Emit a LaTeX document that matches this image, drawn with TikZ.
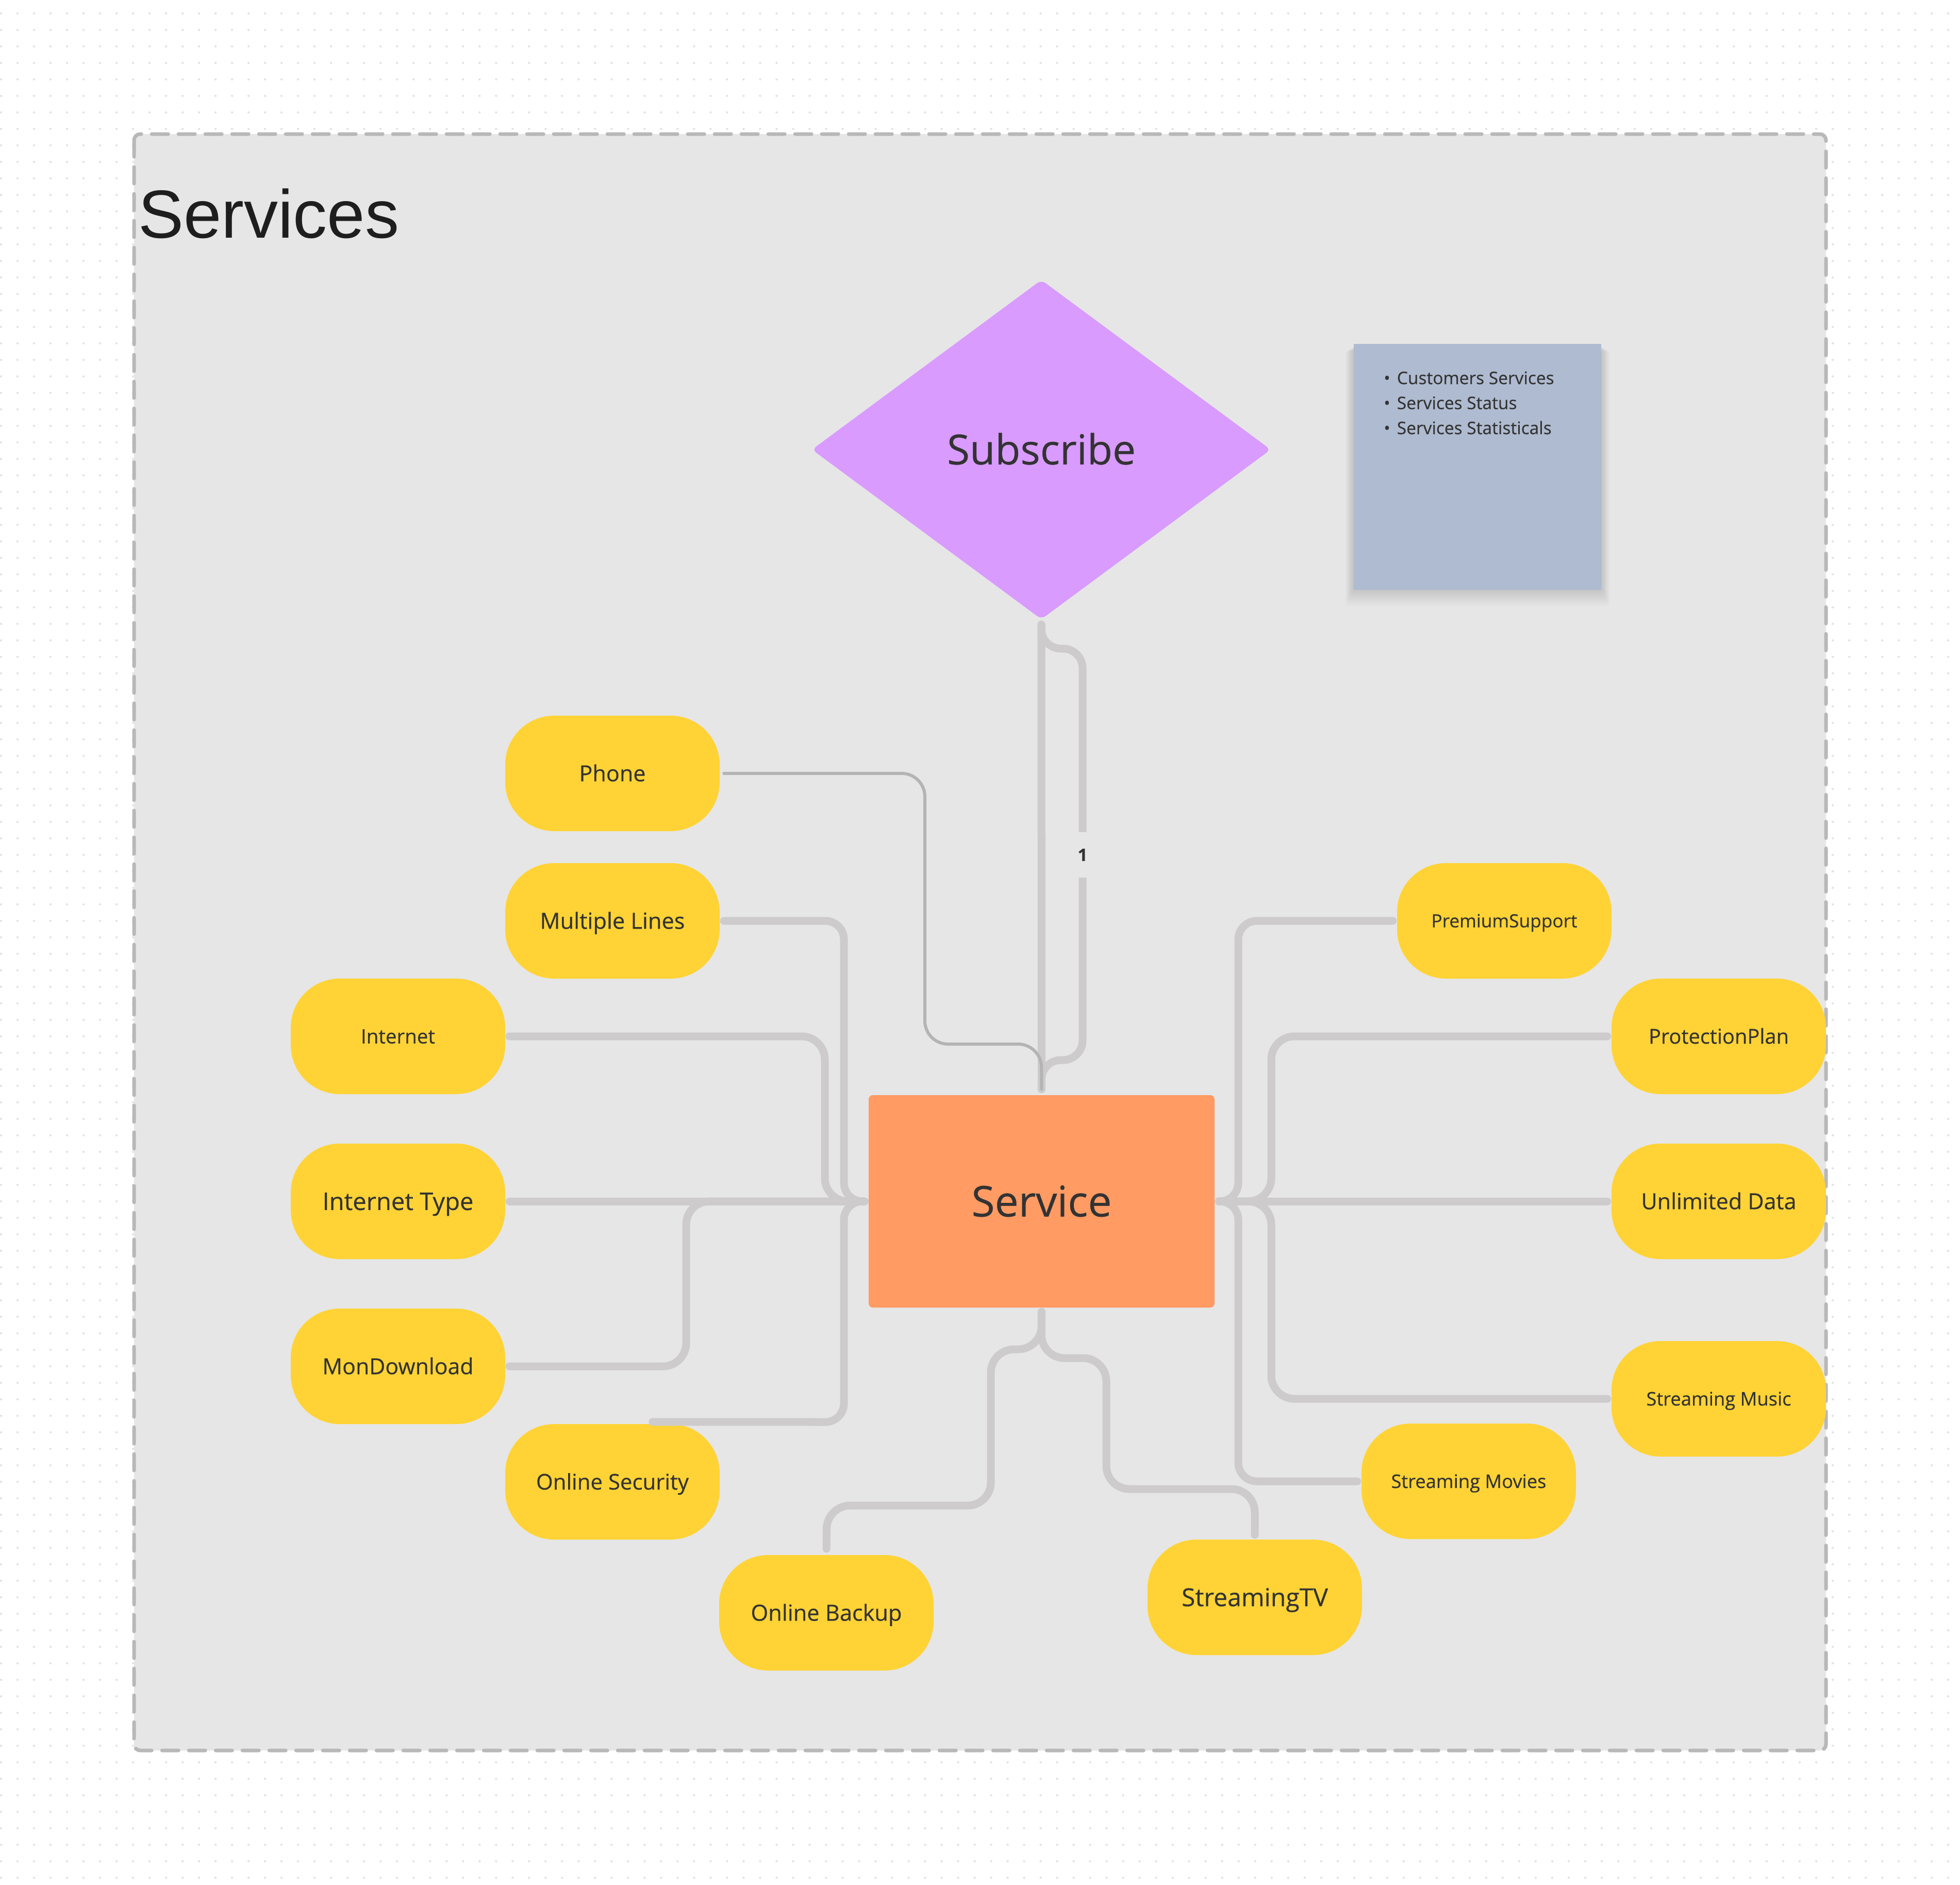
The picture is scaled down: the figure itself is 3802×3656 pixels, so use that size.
\documentclass[tikz,border=0pt]{standalone}
\usepackage{fontspec}
\setmainfont{Open Sans}[FakeBold=0.4]
\newfontfamily\titlefont{Liberation Sans}
\usepackage{graphicx}
\usetikzlibrary{shapes.geometric}

\definecolor{framebg}{HTML}{E6E6E6}
\definecolor{frameb}{HTML}{B8B8B8}
\definecolor{connc}{HTML}{CDCBCB}
\definecolor{phonec}{HTML}{B4B4B4}
\definecolor{yell}{HTML}{FFD335}
\definecolor{orng}{HTML}{FF9B63}
\definecolor{purp}{HTML}{D99BFE}
\definecolor{notec}{HTML}{AFBBD0}
\definecolor{txt}{HTML}{333333}
\definecolor{titlec}{HTML}{1E1E1E}
\definecolor{dotc}{HTML}{E2E2E2}

\newsavebox\fitbox
\newcommand\fitlabel[2]{%
  \sbox\fitbox{\fontsize{100pt}{100pt}\selectfont #2}%
  \pgfmathsetmacro\fitfs{#1/\the\wd\fitbox*100}%
  \fontsize{\fitfs pt}{\fitfs pt}\selectfont\rule{0pt}{0.714em}\smash{#2}}

\begin{document}
\begin{tikzpicture}[x=1pt,y=-1pt,
  ynode/.style={fill=yell, rounded corners=95pt, minimum width=416pt, minimum height=224pt, inner sep=0pt, text=txt},
  conn/.style={draw=connc, line width=15pt, line cap=round, rounded corners=45pt},
  innerconn/.style={conn, rounded corners=36pt},
  thinconn/.style={draw=phonec, line width=6pt, line cap=round, rounded corners=45pt},
  dotrow/.style={draw=dotc, line width=4.5pt, line cap=round, dash pattern=on 0.01pt off 32pt}]

\useasboundingbox (0,0) rectangle (3802,3656);
\fill[white] (0,0) rectangle (3802,3656);
\foreach \yy in {26,58,...,3650} \draw[dotrow] (2,\yy) -- (3802,\yy);

% frame
\draw[draw=frameb, fill=framebg, line width=7pt, line cap=round,
      dash pattern=on 32pt off 20pt, rounded corners=12pt] (260,260) rectangle (3542,3395);

% title
\node[anchor=base west, inner sep=0pt, text=titlec,
      font=\titlefont\fontsize{132pt}{132pt}\selectfont] (title) at (268,461) {Services};

% note with soft shadow below
\foreach \i in {1,...,18}
  \fill[black, opacity=0.007, rounded corners=6pt] (2626-\i*0.9, 670+\i*0.6) rectangle (3106+\i*0.9, 1140+\i*2.0);
\node[fill=notec, minimum width=480pt, minimum height=477pt, inner sep=0pt, anchor=north west] (note) at (2626,667) {};
\node[anchor=base west, inner sep=0pt, text=txt, font=\fontsize{33.5pt}{48.5pt}\selectfont] (notetext) at (2684,745)
  {\begin{tabular}[t]{@{}l@{\hspace{13pt}}l@{}}
   \textbullet & Customers Services\\
   \textbullet & Services Status\\
   \textbullet & Services Statisticals
   \end{tabular}};

% main shapes
\node[diamond, fill=purp, minimum width=890pt, minimum height=658pt, inner sep=0pt,
      rounded corners=10pt, text=txt] (sub) at (2020,872) {\fitlabel{366}{Subscribe}};
\node[fill=orng, minimum width=671pt, minimum height=412pt, inner sep=0pt,
      rounded corners=8pt, text=txt] (service) at (2020.5,2330) {\fitlabel{272}{Service}};

% attribute nodes
\node[ynode] (phone)    at (1188,1500) {\fitlabel{129}{Phone}};
\node[ynode] (mlines)   at (1188,1786) {\fitlabel{281}{Multiple Lines}};
\node[ynode] (internet) at (772,2010)  {\fitlabel{144}{Internet}};
\node[ynode] (itype)    at (772,2330)  {\fitlabel{293}{Internet Type}};
\node[ynode] (mondl)    at (772,2650)  {\fitlabel{293}{MonDownload}};
\node[ynode] (osec)     at (1188,2874) {\fitlabel{296}{Online Security}};
\node[ynode] (obak)     at (1603,3128) {\fitlabel{293}{Online Backup}};
\node[ynode] (stv)      at (2434,3098) {\fitlabel{284}{StreamingTV}};
\node[ynode] (smov)     at (2849,2873) {\fitlabel{301}{Streaming Movies}};
\node[ynode] (smus)     at (3334,2713) {\fitlabel{281}{Streaming Music}};
\node[ynode] (udata)    at (3334,2330) {\fitlabel{301}{Unlimited Data}};
\node[ynode] (pplan)    at (3334,2010) {\fitlabel{272}{ProtectionPlan}};
\node[ynode] (prem)     at (2918,1786) {\fitlabel{283}{PremiumSupport}};

% Subscribe -- Service
\draw[conn] ([yshift=-10pt]sub.south) -- ([yshift=11pt]service.north);
\draw[conn, rounded corners=38pt] ([yshift=-10pt]sub.south) -- (2020,1258) -- (2100,1258)
   -- (2100,2056) -- (2020,2056) -- ([yshift=11pt]service.north);
\node[fill=framebg, inner sep=0pt, minimum width=44pt, minimum height=88pt, text=txt,
      font=\bfseries\fontsize{33pt}{33pt}\selectfont] (one) at (2100,1658) {1};

% Phone (thin)
\draw[thinconn] ([xshift=8pt]phone.east) -- (1794,1500) -- (1794,2025) -- (2020,2025)
   -- ([yshift=11pt]service.north);

% left side
\draw[innerconn] ([xshift=8pt]mlines.east) -- (1637,1786) -- (1637,2330) -- ([xshift=-8pt]service.west);
\draw[conn] ([xshift=8pt]internet.east) -- (1600,2010) -- (1600,2330) -- ([xshift=-8pt]service.west);
\draw[conn] ([xshift=8pt]itype.east) -- ([xshift=-8pt]service.west);
\draw[conn] ([xshift=8pt]mondl.east) -- (1331,2650) -- (1331,2330) -- ([xshift=-8pt]service.west);
\draw[innerconn] ([xshift=78pt,yshift=4pt]osec.north) -- (1637,2758) -- (1637,2330) -- ([xshift=-8pt]service.west);

% bottom
\draw[conn] ([yshift=12pt]obak.north) -- (1604,2920) -- (1922,2920) -- (1922,2617) -- (2020,2617)
   -- ([yshift=-8pt]service.south);
\draw[conn] ([yshift=9pt]stv.north) -- (2434,2888) -- (2146,2888) -- (2146,2634) -- (2020,2634)
   -- ([yshift=-8pt]service.south);

% right side
\draw[innerconn] ([xshift=-8pt]prem.west) -- (2402,1786) -- (2402,2330) -- ([xshift=8pt]service.east);
\draw[conn] ([xshift=-8pt]pplan.west) -- (2466,2010) -- (2466,2330) -- ([xshift=8pt]service.east);
\draw[conn] ([xshift=-8pt]udata.west) -- ([xshift=8pt]service.east);
\draw[conn] ([xshift=-8pt]smus.west) -- (2466,2713) -- (2466,2330) -- ([xshift=8pt]service.east);
\draw[innerconn] ([xshift=-8pt]smov.west) -- (2402,2873) -- (2402,2330) -- ([xshift=8pt]service.east);

\end{tikzpicture}
\end{document}
